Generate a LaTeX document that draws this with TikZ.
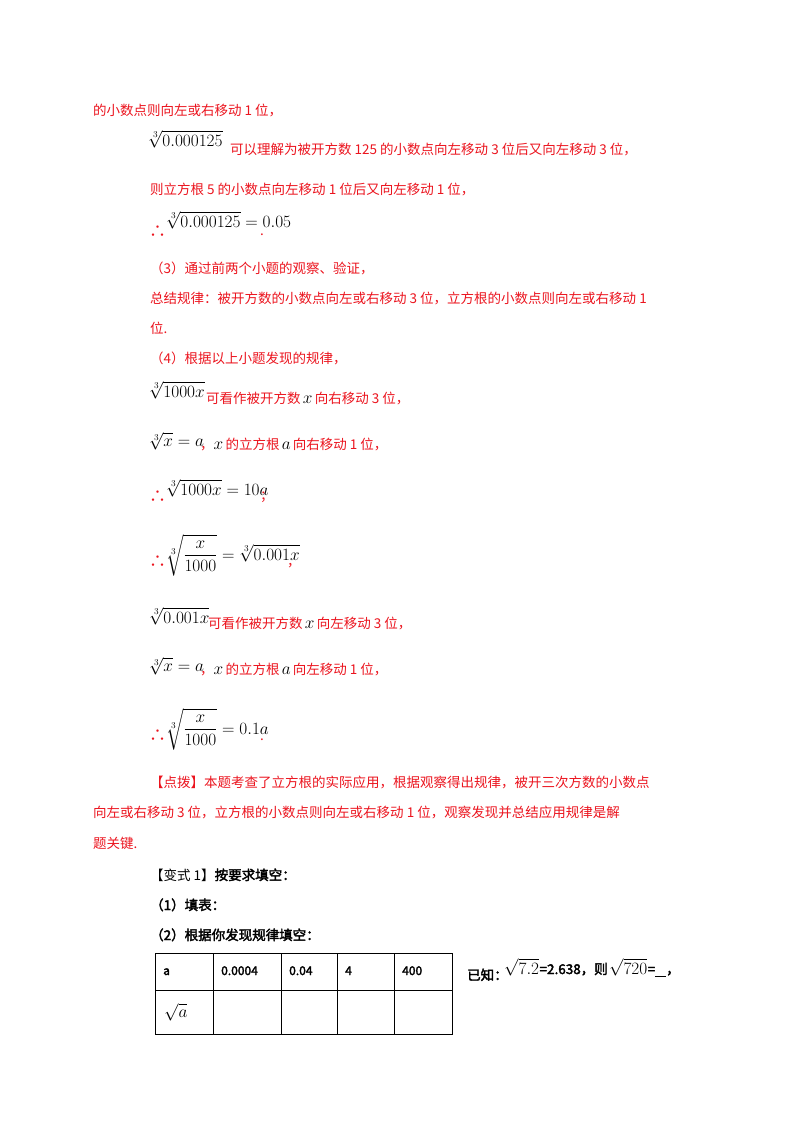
\documentclass[tikz,border=0pt]{standalone}
\usepackage{amsmath}
\usepackage{fontspec}
\setmainfont{Noto Sans CJK SC}[AutoFakeBold=2.5]
\usetikzlibrary{positioning}
\definecolor{rd}{RGB}{235,20,30}
\tikzset{
  t/.style={anchor=base west,inner sep=0pt,text=rd,font=\fontsize{13.5}{14}\selectfont},
  m/.style={anchor=base west,inner sep=0pt,text=black,font=\fontsize{17.5}{19}\selectfont},
  b/.style={anchor=base west,inner sep=0pt,text=black,font=\fontsize{13.5}{14}\selectfont\bfseries},
  cell/.style={anchor=base west,inner sep=0pt,font=\fontsize{12}{13}\selectfont\bfseries}
}
\newcommand{\cbr}[1]{\sqrt[3]{#1}}
\begin{document}
\begin{tikzpicture}[x=1pt,y=-1pt]
\useasboundingbox (0,0) rectangle (800,1132);
\node[t] (l1) at (93,115) {的小数点则向左或右移动 1 位，};
\node[m] (r1) at (148,146) {$\cbr{0.000125}$};
\node[t] (l2) at (230,154) {可以理解为被开方数 125 的小数点向左移动 3 位后又向左移动 3 位，};
\node[t] (l3) at (150,194) {则立方根 5 的小数点向左移动 1 位后又向左移动 1 位，};
\node[t,font=\fontsize{17}{18}\selectfont] (th1) at (149,237) {∴};
\node[m] (r2) at (166,227) {$\cbr{0.000125}=0.05$};
\node[t] (d1) at (260,235) {.};
\node[t] (l4) at (150,273) {（3）通过前两个小题的观察、验证，};
\node[t] (l5) at (150,303) {总结规律：被开方数的小数点向左或右移动 3 位，立方根的小数点则向左或右移动 1};
\node[t] (l6) at (150,333) {位.};
\node[t] (l7) at (150,363) {（4）根据以上小题发现的规律，};
\node[m] (r3) at (149,397) {$\cbr{1000x}$};
\node[t] (l8) at (206,403) {可看作被开方数\,{\color{black}\fontsize{17.5}{19}\selectfont$x$}\,向右移动 3 位，};
\node[m] (r4) at (149,446) {$\cbr{x}=a$};
\node[t] (l9) at (200,449) {，{\color{black}\fontsize{17.5}{19}\selectfont$x$}\,的立方根\,{\color{black}\fontsize{17.5}{19}\selectfont$a$}\,向右移动 1 位，};
\node[t,font=\fontsize{17}{18}\selectfont] (th2) at (149,502) {∴};
\node[m] (r5) at (166,495) {$\cbr{1000x}=10a$};
\node[t] (l10) at (260,500) {；};
\node[t,font=\fontsize{17}{18}\selectfont] (th3) at (149,567) {∴};
\node[m] (r6) at (166,560) {$\sqrt[3]{\dfrac{x}{1000}}=\cbr{0.001x}$};
\node[t] (l11) at (287,566) {，};
\node[m] (r7) at (149,623) {$\cbr{0.001x}$};
\node[t] (l12) at (208,628) {可看作被开方数\,{\color{black}\fontsize{17.5}{19}\selectfont$x$}\,向左移动 3 位，};
\node[m] (r8) at (149,671) {$\cbr{x}=a$};
\node[t] (l13) at (200,674) {，{\color{black}\fontsize{17.5}{19}\selectfont$x$}\,的立方根\,{\color{black}\fontsize{17.5}{19}\selectfont$a$}\,向左移动 1 位，};
\node[t,font=\fontsize{17}{18}\selectfont] (th4) at (149,741) {∴};
\node[m] (r9) at (166,734) {$\sqrt[3]{\dfrac{x}{1000}}=0.1a$};
\node[t] (d2) at (260,740) {.};
\node[t] (p1) at (150,787) {【点拨】本题考查了立方根的实际应用，根据观察得出规律，被开三次方数的小数点};
\node[t] (p2) at (93,817) {向左或右移动 3 位，立方根的小数点则向左或右移动 1 位，观察发现并总结应用规律是解};
\node[t] (p3) at (93,848) {题关键.};
\node[b] (v1) at (150,880) {{\mdseries【变式 1】}按要求填空：};
\node[b] (v2) at (150,910) {（1）填表：};
\node[b] (v3) at (150,940) {（2）根据你发现规律填空：};
\draw[line width=0.9pt] (155,953) rectangle (452,1034);
\draw[line width=0.9pt] (155,990) -- (452,990);
\foreach \xx in {213,281,337,394}{\draw[line width=0.9pt] (\xx,953) -- (\xx,1034);}
\node[cell] (c1) at (163,975) {a};
\node[cell] (c2) at (221,975) {0.0004};
\node[cell] (c3) at (289,975) {0.04};
\node[cell] (c4) at (345,975) {4};
\node[cell] (c5) at (402,975) {400};
\node[m] (c6) at (164,1017) {$\sqrt{a}$};
\node[b] (k1) at (467,980) {已知：};
\node[m] (k2) at (504,974) {$\sqrt{7.2}$};
\node[b,anchor=base west] (k3) at (k2.base east) {=2.638，则};
\node[m] (k4) at ([xshift=1pt]k3.base east) {$\sqrt{720}$};
\node[b] (k5) at (k4.base east) {=\underline{\hspace{11pt}}，};
\end{tikzpicture}
\end{document}
